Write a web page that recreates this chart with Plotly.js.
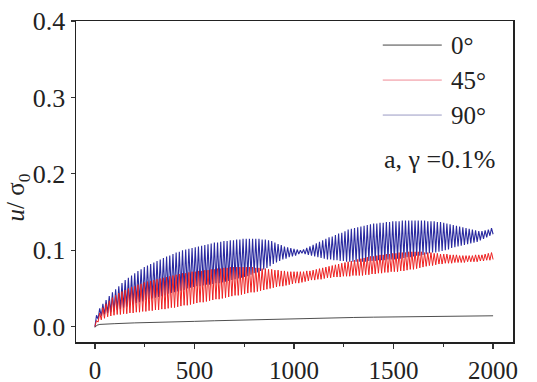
<!DOCTYPE html>
<html><head><meta charset="utf-8">
<script src="https://cdn.plot.ly/plotly-3.0.1.min.js"></script>
<style>body{margin:0;background:#fff}</style>
</head><body><div id="chart" style="width:537px;height:382px"></div>
<script>
// step (in x units) between successive troughs of the oscillating series
const cycleStep = 16;

// 90° series: peak values (one per cycle) and trough values
const blueUpper = [
0.015,0.024,0.030,0.035,0.040,0.045,0.049,0.053,0.057,0.061,
0.064,0.067,0.070,0.073,0.075,0.078,0.080,0.082,0.084,0.086,
0.088,0.090,0.092,0.093,0.095,0.097,0.098,0.100,0.101,0.102,
0.103,0.104,0.105,0.106,0.107,0.108,0.109,0.110,0.110,0.111,
0.112,0.112,0.113,0.113,0.114,0.114,0.115,0.115,0.115,0.115,
0.115,0.115,0.114,0.114,0.113,0.112,0.110,0.108,0.107,0.105,
0.104,0.103,0.102,0.101,0.100,0.101,0.103,0.105,0.107,0.109,
0.111,0.113,0.115,0.117,0.118,0.120,0.122,0.123,0.125,0.127,
0.128,0.129,0.130,0.131,0.132,0.133,0.134,0.135,0.135,0.136,
0.136,0.137,0.137,0.138,0.138,0.138,0.139,0.139,0.139,0.139,
0.139,0.139,0.139,0.139,0.138,0.138,0.138,0.137,0.137,0.136,
0.135,0.134,0.133,0.132,0.131,0.130,0.129,0.128,0.127,0.126,
0.125,0.125,0.126,0.127,0.129];
const blueLower = [
0.000,0.010,0.014,0.016,0.018,0.019,0.020,0.022,0.023,0.025,
0.026,0.028,0.029,0.031,0.032,0.033,0.035,0.036,0.037,0.038,
0.039,0.040,0.041,0.043,0.044,0.045,0.046,0.047,0.048,0.050,
0.051,0.052,0.053,0.053,0.054,0.055,0.055,0.056,0.057,0.057,
0.058,0.059,0.060,0.061,0.062,0.063,0.064,0.065,0.066,0.068,
0.070,0.071,0.073,0.075,0.077,0.079,0.082,0.084,0.086,0.088,
0.089,0.091,0.092,0.093,0.095,0.096,0.095,0.094,0.093,0.092,
0.091,0.090,0.089,0.088,0.088,0.087,0.087,0.086,0.086,0.085,
0.085,0.085,0.085,0.085,0.085,0.085,0.086,0.086,0.086,0.087,
0.087,0.087,0.088,0.088,0.088,0.089,0.089,0.090,0.091,0.091,
0.092,0.093,0.093,0.094,0.095,0.096,0.097,0.097,0.098,0.099,
0.100,0.101,0.103,0.104,0.105,0.106,0.107,0.108,0.109,0.110,
0.111,0.113,0.115,0.117,0.119,0.121];

// 45° series
const redUpper = [
0.008,0.018,0.025,0.030,0.034,0.038,0.041,0.044,0.046,0.048,
0.050,0.052,0.053,0.055,0.056,0.058,0.059,0.060,0.061,0.062,
0.063,0.064,0.065,0.066,0.067,0.068,0.069,0.070,0.070,0.071,
0.072,0.072,0.073,0.073,0.074,0.074,0.075,0.075,0.076,0.076,
0.077,0.077,0.078,0.078,0.078,0.078,0.078,0.078,0.078,0.078,
0.077,0.077,0.076,0.076,0.075,0.075,0.074,0.074,0.073,0.073,
0.072,0.072,0.072,0.072,0.072,0.072,0.073,0.073,0.074,0.075,
0.076,0.077,0.078,0.079,0.080,0.081,0.082,0.083,0.084,0.085,
0.086,0.087,0.088,0.089,0.090,0.091,0.092,0.092,0.093,0.094,
0.094,0.095,0.095,0.096,0.096,0.097,0.097,0.097,0.098,0.098,
0.098,0.098,0.098,0.097,0.097,0.097,0.096,0.096,0.095,0.095,
0.095,0.094,0.094,0.094,0.093,0.093,0.093,0.093,0.093,0.094,
0.094,0.094,0.095,0.096,0.097];
const redLower = [
0.000,0.006,0.009,0.011,0.013,0.014,0.015,0.016,0.016,0.017,
0.017,0.018,0.018,0.019,0.019,0.020,0.020,0.021,0.021,0.022,
0.022,0.023,0.023,0.024,0.025,0.025,0.026,0.027,0.028,0.028,
0.029,0.030,0.031,0.032,0.032,0.033,0.034,0.035,0.036,0.036,
0.037,0.038,0.039,0.040,0.041,0.041,0.042,0.043,0.044,0.045,
0.045,0.046,0.047,0.048,0.049,0.050,0.051,0.052,0.053,0.053,
0.054,0.055,0.056,0.057,0.057,0.058,0.059,0.060,0.061,0.061,
0.062,0.062,0.063,0.064,0.064,0.065,0.065,0.065,0.066,0.066,
0.066,0.067,0.067,0.067,0.067,0.068,0.068,0.069,0.069,0.070,
0.070,0.071,0.071,0.072,0.072,0.072,0.073,0.073,0.074,0.075,
0.075,0.076,0.077,0.078,0.079,0.080,0.080,0.081,0.082,0.082,
0.083,0.083,0.083,0.084,0.084,0.084,0.084,0.085,0.085,0.085,
0.085,0.086,0.086,0.087,0.087,0.088];

// 0° series
const blackX = [0,10,25,50,100,200,300,400,500,600,700,800,900,1000,1100,1200,1300,1400,1500,1600,1700,1800,1900,2000];
const blackY = [-0.001,0.002,0.003,0.0035,0.004,0.005,0.006,0.0065,0.007,0.0078,0.0085,0.0093,0.0101,0.011,0.0114,0.0118,0.0121,0.0125,0.0128,0.0131,0.0134,0.0137,0.014,0.0143];

const legendNames = ['0°','45°','90°'];
const noteText = 'a, γ =0.1%';
const yTitleText = '<i>u</i>/ σ<sub>0</sub>';
const xTicks = [0,500,1000,1500,2000];
const yTicks = [0,0.1,0.2,0.3,0.4];
const yTickText = ['0.0','0.1','0.2','0.3','0.4'];

function zigzag(lower, upper){
  const x = [], y = [];
  for (let k = 0; k < lower.length; k++){
    x.push(k*cycleStep); y.push(lower[k]);
    if (k < upper.length){ x.push(k*cycleStep + cycleStep/2); y.push(upper[k]); }
  }
  return {x, y};
}
const blue = zigzag(blueLower, blueUpper);
const red = zigzag(redLower, redUpper);

const F = 'Liberation Serif';
const traces = [
  {x: blue.x, y: blue.y, type:'scatter', mode:'lines', name: legendNames[2], line:{color:'#2a2aa0', width:1.1}},
  {x: red.x, y: red.y, type:'scatter', mode:'lines', name: legendNames[1], line:{color:'#ee2222', width:1}},
  {x: blackX, y: blackY, type:'scatter', mode:'lines', name: legendNames[0], line:{color:'#222', width:0.8}}
];

const legY = [0.925, 0.816, 0.707];
const legCol = ['#444','#f08a95','#9a9ac4'];
const shapes = [], annotations = [];
for (let i = 0; i < 3; i++){
  shapes.push({type:'line', xref:'paper', yref:'paper', x0:0.702, x1:0.837, y0:legY[i], y1:legY[i], line:{color:legCol[i], width:1}});
  annotations.push({xref:'paper', yref:'paper', x:0.853, y:legY[i], xanchor:'left', yanchor:'middle', text:legendNames[i], showarrow:false, font:{family:F, size:25, color:'#222'}});
}
annotations.push({xref:'paper', yref:'paper', x:0.700, y:0.567, xanchor:'left', yanchor:'middle', text:noteText, showarrow:false, font:{family:F, size:26, color:'#222'}});
annotations.push({xref:'paper', yref:'paper', x:-0.133, y:0.45, xanchor:'center', yanchor:'middle', textangle:-90, text:yTitleText, showarrow:false, font:{family:F, size:25, color:'#222'}});

const layout = {
  width:537, height:382,
  margin:{l:76, r:24, t:21, b:40},
  paper_bgcolor:'#fff', plot_bgcolor:'#fff',
  showlegend:false,
  font:{family:F, size:24, color:'#222'},
  xaxis:{range:[-95,2100], tickvals:xTicks, ticks:'outside', ticklen:5, tickwidth:1.2, tickcolor:'#333',
    minor:{dtick:250, tick0:0, ticks:'outside', ticklen:3, tickcolor:'#333', tickwidth:1},
    showline:true, linecolor:'#222', linewidth:1.5, mirror:true, showgrid:false, zeroline:false,
    tickfont:{family:F, size:25, color:'#222'}},
  yaxis:{range:[-0.02,0.4], tickvals:yTicks, ticktext:yTickText, ticks:'outside', ticklen:4, tickwidth:1.2, tickcolor:'#333',
    showline:true, linecolor:'#222', linewidth:1.5, mirror:true, showgrid:false, zeroline:false,
    tickfont:{family:F, size:26, color:'#222'}},
  shapes, annotations
};
Plotly.newPlot('chart', traces, layout, {displayModeBar:false, staticPlot:true});
</script></body></html>
